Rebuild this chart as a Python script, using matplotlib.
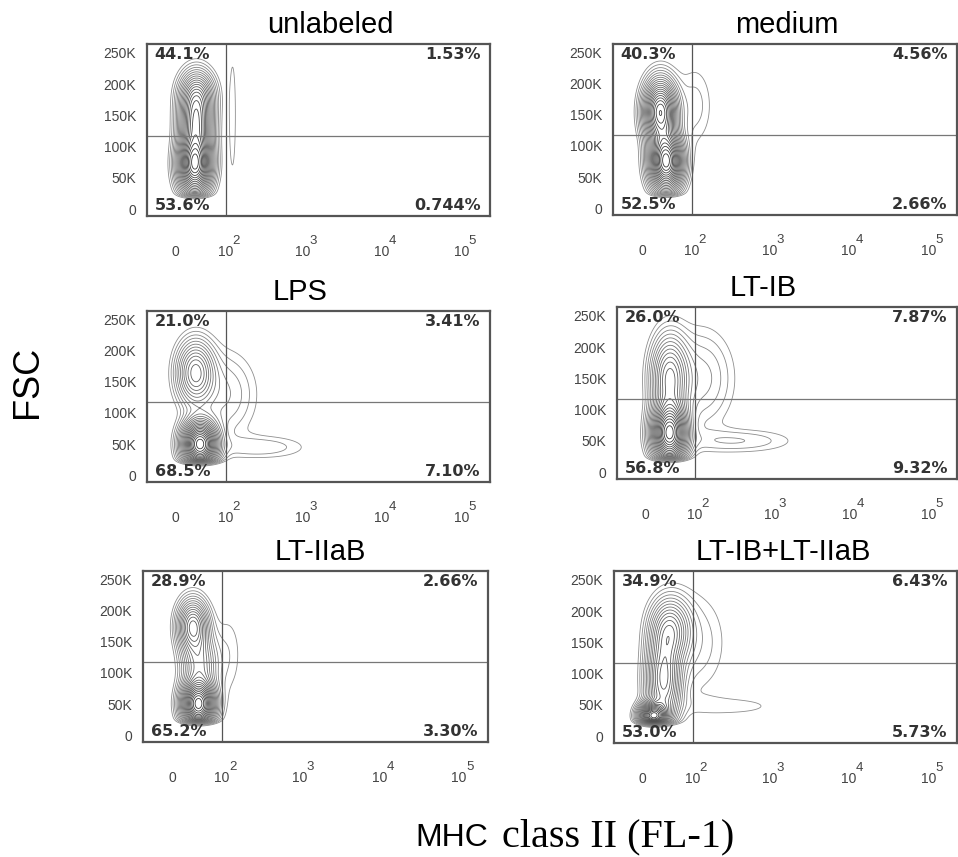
import matplotlib
matplotlib.use('Agg')
import matplotlib.pyplot as plt
from matplotlib.ticker import NullLocator
import numpy as np

plt.rcParams['font.family'] = 'Liberation Sans'

titles = ['unlabeled', 'medium', 'LPS', 'LT-IB', 'LT-IIaB', 'LT-IB+LT-IIaB']

# quadrant percentages
pct_ul = ['44.1%', '40.3%', '21.0%', '26.0%', '28.9%', '34.9%']
pct_ur = ['1.53%', '4.56%', '3.41%', '7.87%', '2.66%', '6.43%']
pct_ll = ['53.6%', '52.5%', '68.5%', '56.8%', '65.2%', '53.0%']
pct_lr = ['0.744%', '2.66%', '7.10%', '9.32%', '3.30%', '5.73%']

x_ticks = [0, 1e2, 1e3, 1e4, 1e5]
x_tick_base = ['0', '10', '10', '10', '10']
x_tick_exp = ['', '2', '3', '4', '5']
y_ticks = [0, 50000, 100000, 150000, 200000, 250000]
y_tick_labels = ['0', '50K', '100K', '150K', '200K', '250K']

gate_x = 100        # MHC gate
gate_y = 117000     # FSC gate

# cell populations:
# (MHC centre, FSC centre in K, spread on the MHC display axis, FSC spread in K, weight)
pops_unlabeled = [(29, 70, 14, 28, 1.0), (31, 140, 14, 35, 0.7),
                  (33, 185, 15, 22, 0.25), (125, 150, 5, 95, 0.03)]
pops_medium = [(28, 155, 14, 30, 0.8), (38, 75, 14, 28, 1.0),
               (110, 165, 18, 45, 0.04)]
pops_lps = [(30, 165, 16, 30, 0.35), (38, 50, 15, 22, 1.0),
            (95, 130, 30, 45, 0.07), (300, 45, 45, 13, 0.045)]
pops_ltib = [(38, 62, 15, 28, 1.0), (38, 150, 16, 40, 0.4),
             (122, 150, 30, 50, 0.08), (372, 50, 55, 13, 0.05)]
pops_ltiiab = [(32, 175, 13, 25, 0.45), (42, 50, 14, 22, 1.0),
               (44, 115, 15, 30, 0.25), (122, 130, 15, 50, 0.03)]
pops_combo = [(15, 32, 12, 12, 1.0), (32, 90, 15, 45, 0.5),
              (44, 170, 17, 30, 0.35), (110, 150, 30, 55, 0.05),
              (336, 48, 60, 13, 0.028)]
populations = [pops_unlabeled, pops_medium, pops_lps, pops_ltib,
               pops_ltiiab, pops_combo]

LIN_W = 50  # linear width of the asinh (biexponential-like) axis
XLIM = (-47, 2.3e5)
YLIM = (-11000, 264000)

# axes boxes in pixels: left, right, top, bottom (figure is 958 x 857)
boxes = [(147, 490, 44, 216), (613, 957, 44, 215),
         (147, 490, 311, 482), (617, 957, 307, 479),
         (143, 488, 571, 742), (614, 957, 571, 743)]
title_x = [0.534, 0.506, 0.446, 0.43, 0.513, 0.493]

W, H = 958, 857
fig = plt.figure(figsize=(W / 100, H / 100), dpi=100)

u_lo = LIN_W * np.arcsinh(XLIM[0] / LIN_W)
u_hi = LIN_W * np.arcsinh(XLIM[1] / LIN_W)
U, Y = np.meshgrid(np.linspace(u_lo, u_hi, 700), np.linspace(YLIM[0], YLIM[1], 400))
X = LIN_W * np.sinh(U / LIN_W)

n_levels = 22
level_frac = np.linspace(0.14, 0.97, n_levels) ** 2
# outer contours light grey, inner ones darker
level_grey = np.linspace(0.56, 0.22, n_levels)
level_colors = [(g, g, g) for g in level_grey]

for i, (l, r, t, b) in enumerate(boxes):
    ax = fig.add_axes([l / W, 1 - b / H, (r - l) / W, (b - t) / H])
    ax.set_xscale('asinh', linear_width=LIN_W)

    Z = np.zeros_like(U)
    for xc, yc, su, sy, w in populations[i]:
        uc = LIN_W * np.arcsinh(xc / LIN_W)
        Z += w * np.exp(-0.5 * (((U - uc) / su) ** 2 + ((Y - yc * 1000) / (sy * 1000)) ** 2))
    Z *= 1 / (1 + np.exp(-(Y - 21000) / 2500))  # FSC threshold
    ax.contour(X, Y, Z, levels=Z.max() * level_frac, colors=level_colors,
               linewidths=0.6)

    ax.axvline(gate_x, color='#555555', lw=0.9)
    ax.axhline(gate_y, color='#777777', lw=0.9)

    ax.set_xlim(XLIM)
    ax.set_ylim(YLIM)
    ax.set_xticks(x_ticks)
    ax.set_xticklabels(x_tick_base)
    ax.xaxis.set_minor_locator(NullLocator())
    ax.set_yticks(y_ticks)
    ax.set_yticklabels(y_tick_labels)
    ax.tick_params(axis='x', length=0, pad=29, labelsize=10, labelcolor='#444444')
    ax.tick_params(axis='y', length=0, pad=8, labelsize=10, labelcolor='#444444')
    for lbl in ax.get_xticklabels():
        lbl.set_verticalalignment('baseline')
    for xt, e in zip(x_ticks, x_tick_exp):
        if e:
            ax.annotate(e, xy=(xt, 0), xycoords=('data', 'axes fraction'),
                        xytext=(5, -20.5), textcoords='offset points',
                        fontsize=9.5, color='#444444', ha='left', va='baseline')
    for sp in ax.spines.values():
        sp.set_color('#555555')
        sp.set_linewidth(1.6)

    ax.set_title(titles[i], fontsize=21, x=title_x[i], pad=8)

    qkw = dict(transform=ax.transAxes, fontsize=11.5, fontweight='bold',
               family='DejaVu Sans', color='#333333')
    ax.text(0.022, 0.985, pct_ul[i], ha='left', va='top', **qkw)
    ax.text(0.972, 0.985, pct_ur[i], ha='right', va='top', **qkw)
    ax.text(0.022, 0.02, pct_ll[i], ha='left', va='bottom', **qkw)
    ax.text(0.972, 0.02, pct_lr[i], ha='right', va='bottom', **qkw)

fig.text(27 / W, 1 - 382 / H, 'FSC', rotation=90, fontsize=26,
         ha='center', va='center')
fig.text(488 / W, 1 - 846 / H, 'MHC', fontsize=23, ha='right', va='baseline')
fig.text(502 / W, 1 - 846 / H, 'class II (FL-1)', fontsize=29,
         family='Liberation Serif', ha='left', va='baseline')

fig.savefig('out.png', dpi=100)
